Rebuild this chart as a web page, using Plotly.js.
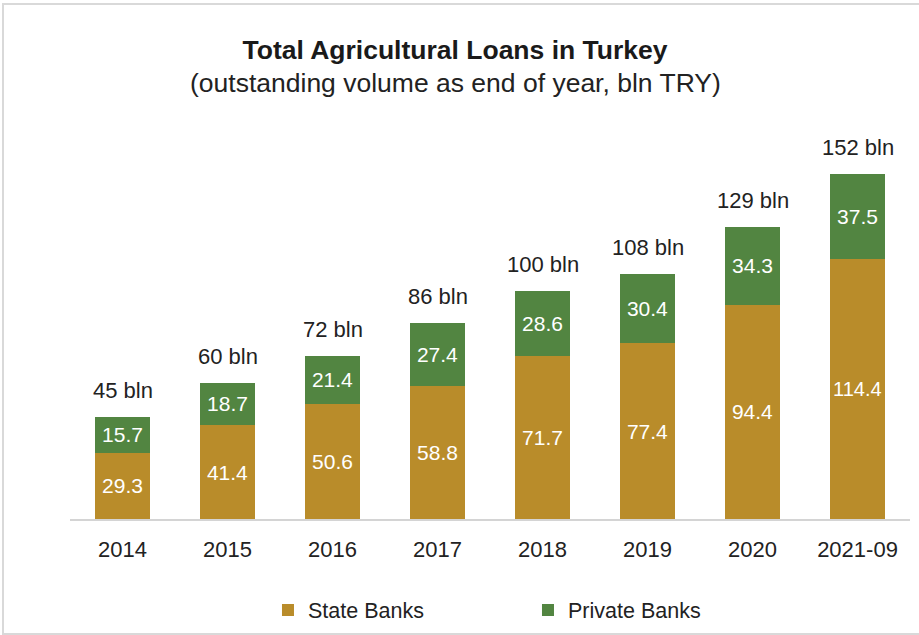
<!DOCTYPE html>
<html>
<head>
<meta charset="utf-8">
<script src="https://cdn.plot.ly/plotly-3.0.1.min.js"></script>
<style>
html,body{margin:0;padding:0;background:#fff;}
#chart{width:919px;height:635px;position:absolute;left:0;top:0;}
#frame{position:absolute;left:2px;top:3px;width:930px;height:628px;border:2px solid #d9d9d9;pointer-events:none;}
</style>
</head>
<body>
<div id="chart"></div>
<div id="frame"></div>
<script>
const years = ['2014','2015','2016','2017','2018','2019','2020','2021-09'];
const stateBanks = [29.3, 41.4, 50.6, 58.8, 71.7, 77.4, 94.4, 114.4];
const privateBanks = [15.7, 18.7, 21.4, 27.4, 28.6, 30.4, 34.3, 37.5];
const seriesNames = ['State Banks', 'Private Banks'];

const FONT = 'Liberation Sans, Arial, Helvetica, sans-serif';
const totals = years.map((y, i) => stateBanks[i] + privateBanks[i]);

const common = {
  type: 'bar',
  x: years,
  width: 0.524,
  textposition: 'inside',
  insidetextanchor: 'middle',
  textangle: 0,
  textfont: {family: FONT, size: 21, color: '#ffffff'},
  hoverinfo: 'skip'
};

const traces = [
  Object.assign({}, common, {
    name: seriesNames[0], y: stateBanks,
    text: stateBanks.map(v => v.toFixed(1)),
    marker: {color: '#b98c2a'}
  }),
  Object.assign({}, common, {
    name: seriesNames[1], y: privateBanks,
    text: privateBanks.map(v => v.toFixed(1)),
    marker: {color: '#528541'}
  })
];

const TITLE_X = (455 - 70) / 840;

const annotations = years.map((y, i) => ({
  x: i, y: totals[i], xref: 'x', yref: 'y',
  text: Math.round(totals[i]) + ' bln',
  showarrow: false, yanchor: 'bottom', yshift: 12,
  font: {family: FONT, size: 22, color: '#222222'}
}));
annotations.push({
  xref: 'paper', yref: 'paper', x: TITLE_X, y: 1,
  xanchor: 'center', yanchor: 'middle', yshift: 156 - 83,
  text: '(outstanding volume as end of year, bln TRY)', showarrow: false,
  font: {family: FONT, size: 26.5, color: '#222222'}
});

const layout = {
  width: 919, height: 635,
  paper_bgcolor: '#ffffff', plot_bgcolor: '#ffffff',
  margin: {l: 70, r: 9, t: 156, b: 116},
  barmode: 'stack',
  showlegend: true,
  title: {
    text: '<b>Total Agricultural Loans in Turkey</b>',
    x: TITLE_X, xref: 'paper', xanchor: 'center',
    y: 1 - 50/635, yref: 'container', yanchor: 'middle',
    font: {family: FONT, size: 26.5, color: '#1a1a1a'}
  },
  xaxis: {
    type: 'category', range: [-0.5, 7.5],
    showline: true, linecolor: '#d4d4d4', linewidth: 2,
    ticks: 'outside', ticklen: 10, tickcolor: 'rgba(0,0,0,0)',
    tickfont: {family: FONT, size: 22, color: '#222222'},
    showgrid: false, zeroline: false, fixedrange: true
  },
  yaxis: {
    range: [0, 160], visible: false, showgrid: false, zeroline: false, fixedrange: true
  },
  legend: {
    orientation: 'h', x: 0.2357, xanchor: 'left', xref: 'paper',
    y: 25/635, yref: 'container', yanchor: 'middle',
    traceorder: 'normal', entrywidth: 215, entrywidthmode: 'pixels',
    itemwidth: 30,
    font: {family: FONT, size: 21.5, color: '#222222'}
  },
  annotations: annotations
};

Plotly.newPlot('chart', traces, layout, {displayModeBar: false, staticPlot: true});
</script>
</body>
</html>
